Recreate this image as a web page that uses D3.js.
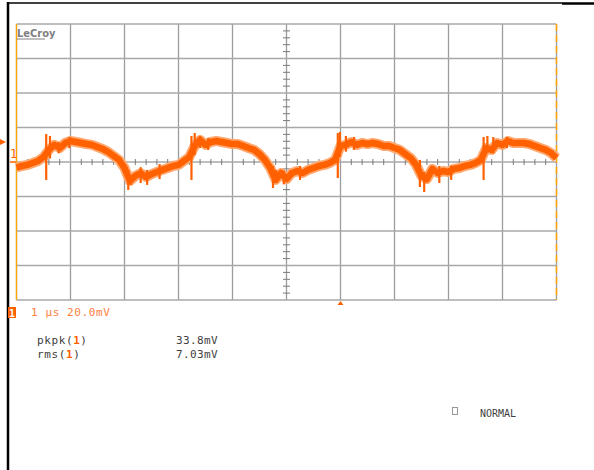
<!DOCTYPE html>
<html>
<head>
<meta charset="utf-8">
<script src="https://cdn.jsdelivr.net/npm/d3@7"></script>
<style>
  body { margin: 0; background: #fff; }
  svg { display: block; }
  .mono { font-family: "DejaVu Sans Mono", monospace; }
</style>
</head>
<body>
<div id="scope"></div>
<script>
// trace samples, one every 0.1 us from -5 us to +5 us (mV)
const traceStart = -5.0;
const traceStep = 0.1;
const traceMv = [
  -3.2, -2.3, -1.7, -0.6, 0.6, 2.9, 7.0, 9.9, 8.1, 11.0,
  12.2, 11.6, 11.0, 10.4, 9.9, 8.7, 7.5, 5.8, 3.5, 1.2,
  -3.5, -11.0, -8.1, -6.4, -8.7, -7.0, -5.8, -4.6, -3.5, -2.3,
  -1.7, 0.6, 2.9, 9.3, 12.8, 9.9, 11.6, 12.2, 11.6, 11.0,
  10.4, 10.4, 9.3, 8.1, 7.0, 4.6, 1.2, -3.5, -10.4, -6.4,
  -9.9, -6.4, -5.2, -6.4, -4.6, -3.5, -2.3, -1.7, -0.6, 1.2,
  9.3, 9.9, 11.6, 9.9, 11.0, 10.4, 11.0, 10.4, 9.3, 9.3,
  8.1, 7.0, 4.6, 2.3, -1.7, -8.1, -9.9, -4.0, -6.4, -5.2,
  -5.8, -4.0, -3.5, -2.3, -1.7, -0.6, 1.2, 8.1, 7.0, 11.0,
  9.9, 12.2, 11.0, 11.0, 11.0, 10.4, 9.3, 8.1, 7.0, 5.2,
  2.3
];
// glitches: [time us, low mV, high mV]
const spikes = [
  [-4.45, -10.4, 16.2], [-4.38, 2.0, 15.1], [-4.22, 5.0, 11.6], [-4.02, 8.0, 14.5],
  [-2.93, -16.2, -4.6], [-2.88, -13.3, -7.5], [-2.58, -13.3, -4.6], [-2.70, -12.2, -3.0],
  [-2.35, -9.9, -1.2], [-1.76, -10.4, 15.1], [-1.70, 4.0, 16.8], [-1.60, 8.1, 15.1],
  [-1.45, 7.0, 14.0], [-0.25, -15.1, -2.3], [-0.19, -11.6, -4.6], [-0.05, -13.0, -5.0],
  [0.25, -10.4, -2.3], [0.95, -9.3, 16.8], [0.99, 3.0, 17.4], [1.10, 6.0, 15.1],
  [1.25, 7.0, 14.5], [2.47, -14.5, 1.2], [2.55, -17.4, -5.8], [2.83, -12.2, -2.3],
  [3.05, -10.4, -2.0], [3.65, -10.4, 14.5], [3.72, 6.0, 15.1], [3.83, 5.0, 14.5],
  [4.08, 8.0, 14.5]
];
const timeTicks = d3.range(-5, 5.001, 1);      // 10 divisions, 1 us/div
const voltTicks = d3.range(-80, 80.001, 20);   // 8 divisions, 20 mV/div
const timebase = "1 \u03bcs 20.0mV";
const measNames = ["pkpk", "rms"];
const measValues = ["33.8mV", "7.03mV"];
const triggerMode = "NORMAL";

const W = 594, H = 470;
const orange = "#ff6000";

const svg = d3.select("#scope").append("svg")
  .attr("width", W).attr("height", H);

const x = d3.scaleLinear().domain([-5, 5]).range([16.5, 556.5]);
const y = d3.scaleLinear().domain([-80, 80]).range([300, 24]);

// outer black frame pieces
svg.append("line").attr("x1", 8).attr("x2", 8).attr("y1", 2).attr("y2", H)
  .attr("stroke", "#000").attr("stroke-width", 2.5);
svg.append("line").attr("x1", 8).attr("x2", 562).attr("y1", 3).attr("y2", 3)
  .attr("stroke", "#000").attr("stroke-width", 1.3);
svg.append("line").attr("x1", 562).attr("x2", W).attr("y1", 3.5).attr("y2", 3.5)
  .attr("stroke", "#000").attr("stroke-width", 2.5);

// grid
const grid = svg.append("g");
grid.selectAll(".vg").data(timeTicks).join("line")
  .attr("x1", d => x(d)).attr("x2", d => x(d))
  .attr("y1", y(80)).attr("y2", y(-80))
  .attr("stroke", "#9c9c9c").attr("stroke-width", 1.3);
grid.selectAll(".hg").data(voltTicks).join("line")
  .attr("x1", x(-5)).attr("x2", x(5))
  .attr("y1", d => y(d)).attr("y2", d => y(d))
  .attr("stroke", "#a8a8a8").attr("stroke-width", 1.3);

// minor ticks on the centre cross
const xMinor = d3.range(-5, 5.001, 0.2).filter(d => Math.abs(d - Math.round(d)) > 0.01);
grid.selectAll(".xm").data(xMinor).join("line")
  .attr("x1", d => x(d)).attr("x2", d => x(d))
  .attr("y1", y(0) - 3).attr("y2", y(0) + 3)
  .attr("stroke", "#7a7a7a").attr("stroke-width", 1);
const yMinor = d3.range(-80, 80.001, 4).filter(d => d % 20 !== 0);
grid.selectAll(".ym").data(yMinor).join("line")
  .attr("x1", x(0) - 3.5).attr("x2", x(0) + 3.5)
  .attr("y1", d => y(d)).attr("y2", d => y(d))
  .attr("stroke", "#7a7a7a").attr("stroke-width", 1);

// left edge (orange) and right edge (orange dashed)
svg.append("line").attr("x1", x(-5)).attr("x2", x(-5)).attr("y1", y(80)).attr("y2", y(-80))
  .attr("stroke", "#ffa500").attr("stroke-width", 1.3);
svg.append("line").attr("x1", x(5)).attr("x2", x(5)).attr("y1", y(80)).attr("y2", y(-80))
  .attr("stroke", "#ffa500").attr("stroke-width", 1.5).attr("stroke-dasharray", "7,4");

// LeCroy logo
svg.append("text").attr("x", 17).attr("y", 37)
  .attr("font-family", "DejaVu Sans Condensed, DejaVu Sans, sans-serif")
  .attr("font-size", 11).attr("font-weight", "bold").attr("fill", "#808080")
  .text("LeCroy");
svg.append("line").attr("x1", 17).attr("x2", 45).attr("y1", 39).attr("y2", 39)
  .attr("stroke", "#808080").attr("stroke-width", 1);

// trace
const traceData = traceMv.map((v, i) => ({ t: traceStart + i * traceStep, v: v }));
const line = d3.line().x(d => x(d.t)).y(d => y(d.v)).curve(d3.curveLinear);
svg.append("path").datum(traceData)
  .attr("fill", "none").attr("stroke", "#ffa870").attr("stroke-width", 10)
  .attr("stroke-linejoin", "round").attr("d", line);
svg.append("path").datum(traceData)
  .attr("fill", "none").attr("stroke", orange).attr("stroke-width", 6.5)
  .attr("stroke-linejoin", "round").attr("d", line);
svg.append("g").selectAll("line").data(spikes).join("line")
  .attr("x1", d => x(d[0])).attr("x2", d => x(d[0]))
  .attr("y1", d => y(d[1])).attr("y2", d => y(d[2]))
  .attr("stroke", orange).attr("stroke-width", 2.2);

// channel 1 level markers
svg.append("path").attr("d", "M0,139 L6,142 L0,145 Z").attr("fill", orange);
svg.append("text").attr("x", 10).attr("y", 158)
  .attr("class", "mono").attr("font-size", 12).attr("fill", orange).text("1");
svg.append("line").attr("x1", 10).attr("x2", 16).attr("y1", y(0)).attr("y2", y(0))
  .attr("stroke", orange).attr("stroke-width", 1.5);
// trigger position marker
svg.append("path")
  .attr("d", `M${x(1) - 3},305 L${x(1) + 3},305 L${x(1)},301 Z`).attr("fill", orange);

// channel box and timebase
svg.append("rect").attr("x", 8).attr("y", 307).attr("width", 8).attr("height", 11).attr("fill", orange);
svg.append("text").attr("x", 12).attr("y", 316.5).attr("text-anchor", "middle")
  .attr("class", "mono").attr("font-size", 10).attr("font-weight", "bold").attr("fill", "#fff").text("1");
svg.append("text").attr("x", 31).attr("y", 316)
  .attr("class", "mono").attr("font-size", 11).attr("fill", "#ff8040")
  .attr("letter-spacing", 0.6).text(timebase);

// measurements
const meas = svg.append("g").selectAll("g").data(measNames).join("g")
  .attr("transform", (d, i) => `translate(0,${344 + i * 14})`);
meas.append("text").attr("x", 37).attr("class", "mono").attr("font-size", 11)
  .attr("fill", "#404040").attr("letter-spacing", 0.6)
  .each(function (d) {
    const t = d3.select(this);
    t.append("tspan").text(d + "(");
    t.append("tspan").attr("fill", orange).attr("font-weight", "bold").text("1");
    t.append("tspan").text(")");
  });
meas.append("text").attr("x", 176).attr("class", "mono").attr("font-size", 11)
  .attr("fill", "#404040").attr("letter-spacing", 0.4)
  .text((d, i) => measValues[i]);

// trigger mode
svg.append("rect").attr("x", 452.5).attr("y", 407.5).attr("width", 5).attr("height", 7)
  .attr("fill", "none").attr("stroke", "#999").attr("stroke-width", 1);
svg.append("text").attr("x", 480).attr("y", 417).attr("class", "mono")
  .attr("font-size", 10).attr("fill", "#404040").text(triggerMode);
</script>
</body>
</html>
